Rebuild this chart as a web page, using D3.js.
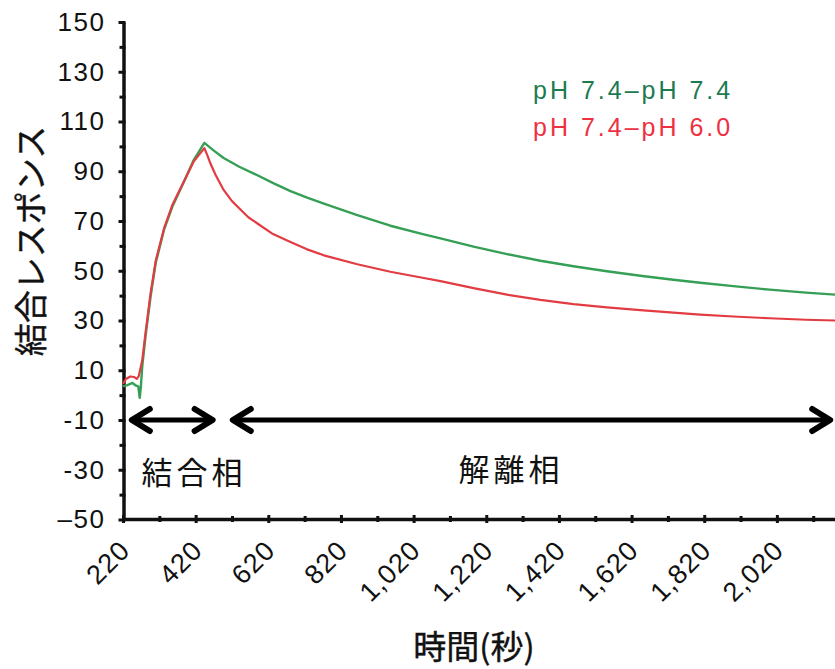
<!DOCTYPE html>
<html>
<head>
<meta charset="utf-8">
<script src="https://cdn.jsdelivr.net/npm/d3@7"></script>
<style>
    body { margin: 0; background: #fff; }
    svg text { font-family: "Liberation Sans", Arial, sans-serif; fill: #111; }
    svg .jp { font-family: "Noto Sans CJK JP", sans-serif; }
</style>
</head>
<body>
<div id="graph"></div>
<script>
// readings: [time (s), binding response]
const neutralSeries = [
    [220, 3.5], [232, 4.0], [246, 4.9], [256, 3.8], [262, 3.5], [266, -1.1], [269, 3], [273, 11.6],
    [282, 23.6], [296, 39.7], [310, 53.1], [333, 66.5], [356, 75.8], [388, 85.9], [415, 94.6],
    [444, 101.4], [470, 98.3], [497, 95.3], [540, 91.8], [590, 88.4], [635, 85.1], [681, 82.0],
    [727, 79.4], [773, 77.0], [865, 72.4], [956, 68.1], [1048, 64.6], [1094, 63.0], [1185, 59.7],
    [1277, 56.7], [1369, 54.0], [1460, 51.8], [1552, 49.8], [1644, 48.0], [1735, 46.4], [1809, 45.2],
    [1900, 43.8], [2000, 42.4], [2100, 41.2], [2180, 40.4]
]
const acidSeries = [
    [220, 4.5], [228, 6.5], [240, 7.5], [250, 7.3], [258, 6.5], [263, 7.5], [267, 10], [273, 14],
    [282, 25], [296, 41], [310, 54], [333, 67], [356, 76.5], [388, 86], [415, 94], [444, 99.3],
    [452, 96.5], [461, 93.0], [475, 88.5], [497, 82.5], [520, 78.0], [544, 74.5], [565, 71.5],
    [590, 69.0], [630, 65.0], [681, 61.6], [725, 58.7], [773, 56.2], [865, 52.6], [956, 49.6],
    [1048, 47.1], [1094, 45.8], [1185, 43.0], [1277, 40.4], [1369, 38.3], [1460, 36.6], [1552, 35.3],
    [1644, 34.2], [1735, 33.2], [1809, 32.4], [1900, 31.6], [2000, 30.9], [2100, 30.3], [2180, 30.0]
]
const seriesNames = ["pH 7.4–pH 7.4", "pH 7.4–pH 6.0"]

const yMajorTicks = [150, 130, 110, 90, 70, 50, 30, 10, -10, -30, -50]
const yTickLabels = ["150", "130", "110", "90", "70", "50", "30", "10", "-10", "-30", "–50"]
const yMinorTicks = [140, 120, 100, 80, 60, 40, 20, 0, -20, -40]
const xMajorTicks = [220, 420, 620, 820, 1020, 1220, 1420, 1620, 1820, 2020]
const xTickLabels = ["220", "420", "620", "820", "1,020", "1,220", "1,420", "1,620", "1,820", "2,020"]
const xMinorTicks = [320, 520, 720, 920, 1120, 1320, 1520, 1720, 1920, 2120]

// association / dissociation phases, in seconds, marked at response -10
const phaseLabels = ["結合相", "解離相"]
const phaseStarts = [236, 514]
const phaseEnds = [475, 2175]
const arrowLevel = -10

const width = 835
const height = 669
const margins = ({
    top: 22,
    right: 0,
    bottom: 150,
    left: 123
})
const lineColors = ["#35a055", "#e23c42"]
const legendColors = ["#1c7a50", "#ee3042"]

const svg = d3.select("#graph")
    .append("svg")
    .attr("width", width)
    .attr("height", height)

const x = d3.scaleLinear()
    .domain([220, 2180])
    .range([margins.left, width - margins.right])
const y = d3.scaleLinear()
    .domain([-50, 150])
    .range([height - margins.bottom + 0.5, margins.top])

// y axis
const yAxis = svg.append("g")
    .attr("transform", `translate(${margins.left + 0.5},0)`)
    .call(d3.axisLeft(y)
        .tickValues(yMajorTicks)
        .tickFormat((d, i) => yTickLabels[i])
        .tickSize(5)
        .tickSizeOuter(0)
        .tickPadding(13))
yAxis.select(".domain").attr("stroke", "#111").attr("stroke-width", 3.5)
yAxis.selectAll(".tick line").attr("x1", 2).attr("stroke", "#111").attr("stroke-width", 3)
yAxis.selectAll(".tick text")
    .attr("font-size", 26)
    .attr("letter-spacing", 1.5)
    .style("font-family", "'Liberation Sans', Arial, sans-serif")
    .attr("fill", "#111")

svg.append("g")
    .attr("transform", `translate(${margins.left + 0.5},0)`)
    .call(d3.axisLeft(y).tickValues(yMinorTicks).tickFormat("").tickSize(4).tickSizeOuter(0))
    .call(g => g.select(".domain").remove())
    .selectAll(".tick line").attr("x1", 2).attr("stroke", "#111").attr("stroke-width", 3)

// x axis
const xAxis = svg.append("g")
    .attr("transform", `translate(0,${height - margins.bottom})`)
    .call(d3.axisBottom(x)
        .tickValues(xMajorTicks)
        .tickFormat((d, i) => xTickLabels[i])
        .tickSize(4)
        .tickSizeOuter(0))
xAxis.select(".domain").attr("stroke", "#111").attr("stroke-width", 3.5)
xAxis.selectAll(".tick line").attr("y1", -4).attr("stroke", "#111").attr("stroke-width", 3)
xAxis.selectAll(".tick text")
    .attr("y", 0)
    .attr("dy", 0)
    .attr("text-anchor", "end")
    .attr("transform", "translate(8,33) rotate(-45)")
    .attr("font-size", 27)
    .attr("letter-spacing", 1)
    .style("font-family", "'Liberation Sans', Arial, sans-serif")
    .attr("fill", "#111")

svg.append("g")
    .attr("transform", `translate(0,${height - margins.bottom})`)
    .call(d3.axisBottom(x).tickValues(xMinorTicks).tickFormat("").tickSize(3).tickSizeOuter(0))
    .call(g => g.select(".domain").remove())
    .selectAll(".tick line").attr("y1", -3).attr("stroke", "#111").attr("stroke-width", 3)

// curves
const line = d3.line()
    .x(d => x(d[0]))
    .y(d => y(d[1]))

svg.append("path")
    .datum(neutralSeries)
    .attr("fill", "none")
    .attr("stroke", lineColors[0])
    .attr("stroke-width", 2.4)
    .attr("stroke-linejoin", "round")
    .attr("d", line)
svg.append("path")
    .datum(acidSeries)
    .attr("fill", "none")
    .attr("stroke", lineColors[1])
    .attr("stroke-width", 2.2)
    .attr("stroke-linejoin", "round")
    .attr("d", line)

// legend
seriesNames.forEach((name, i) => {
    svg.append("text")
        .text(name)
        .attr("x", 533)
        .attr("y", 99 + i * 37)
        .attr("font-size", 25)
        .attr("letter-spacing", 3)
        .style("fill", legendColors[i])
})

// phase arrows
phaseLabels.forEach((label, i) => {
    const x1 = x(phaseStarts[i]) + 3
    const x2 = x(phaseEnds[i]) - 3
    const ay = y(arrowLevel)
    svg.append("line")
        .attr("x1", x1 + 2)
        .attr("x2", x2 - 2)
        .attr("y1", ay)
        .attr("y2", ay)
        .attr("stroke", "#000")
        .attr("stroke-width", 5)
    svg.append("path")
        .attr("d", `M${x1 + 18},${ay - 11}L${x1},${ay}L${x1 + 18},${ay + 11}M${x2 - 18},${ay - 11}L${x2},${ay}L${x2 - 18},${ay + 11}`)
        .attr("fill", "none")
        .attr("stroke", "#000")
        .attr("stroke-width", 6)
        .attr("stroke-linecap", "round")
        .attr("stroke-linejoin", "round")
})

svg.append("text")
    .attr("class", "jp")
    .text(phaseLabels[0])
    .attr("x", 194)
    .attr("y", 484)
    .attr("font-size", 31)
    .attr("letter-spacing", 4)
    .style("text-anchor", "middle")
svg.append("text")
    .attr("class", "jp")
    .text(phaseLabels[1])
    .attr("x", 511)
    .attr("y", 481)
    .attr("font-size", 31)
    .attr("letter-spacing", 4)
    .style("text-anchor", "middle")

// axis titles (regular weight, thickened a little with a thin outline)
svg.append("text")
    .attr("class", "jp")
    .text("時間(秒)")
    .attr("x", 474)
    .attr("y", 659)
    .attr("font-size", 33)
    .attr("stroke", "#111")
    .attr("stroke-width", 0.4)
    .style("text-anchor", "middle")
svg.append("text")
    .attr("class", "jp")
    .text("結合レスポンス")
    .attr("transform", "translate(29,241) rotate(-90)")
    .attr("font-size", 33)
    .attr("stroke", "#111")
    .attr("stroke-width", 0.4)
    .attr("dominant-baseline", "central")
    .style("text-anchor", "middle")
</script>
</body>
</html>
